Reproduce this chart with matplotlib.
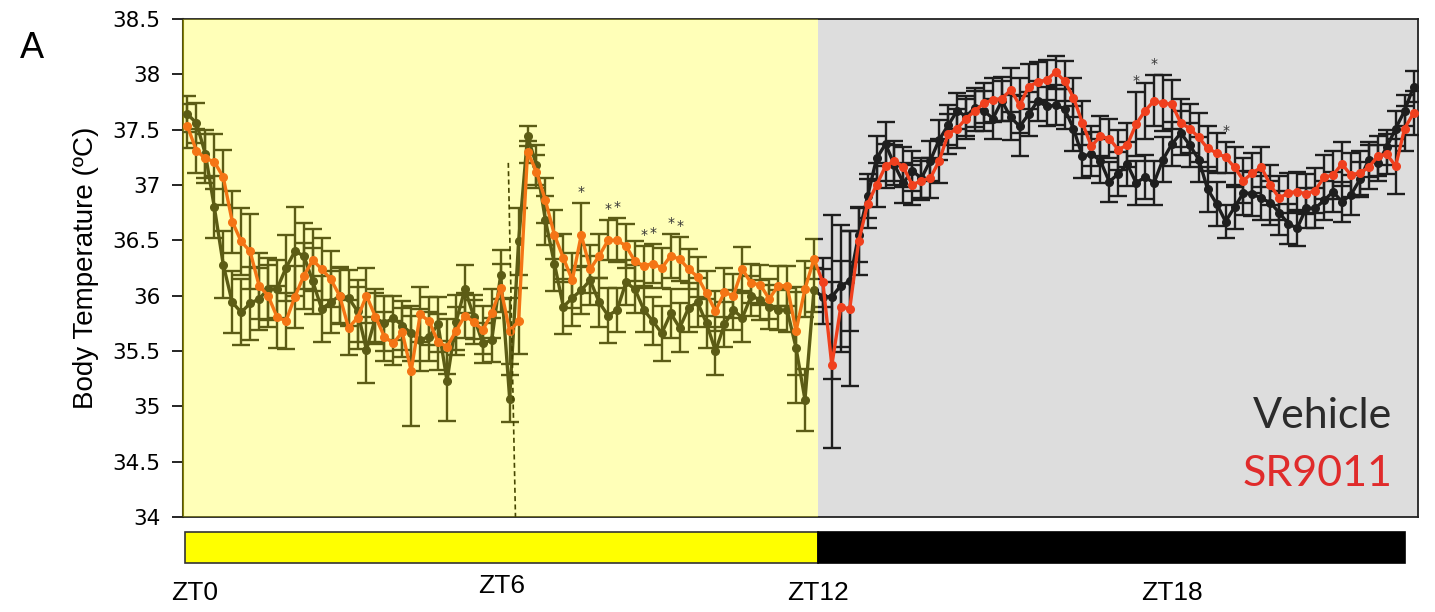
import matplotlib
matplotlib.use('Agg')
import matplotlib.pyplot as plt
from matplotlib.patches import Rectangle
import numpy as np

# body temperature every 10 min, vehicle vs SR9011
vehicle = [
    37.64, 37.56, 37.28, 36.80, 36.28, 35.94, 35.85, 35.93, 35.97, 36.06,
    36.06, 36.25, 36.40, 36.36, 36.13, 35.88, 35.94, 36.00, 35.98, 35.86,
    35.51, 35.80, 35.75, 35.80, 35.73, 35.66, 35.60, 35.63, 35.74, 35.23,
    35.76, 36.06, 35.81, 35.57, 35.60, 36.19, 35.07, 36.49, 37.44, 37.18,
    36.68, 36.29, 35.90, 35.98, 36.05, 36.14, 35.94, 35.82, 35.87, 36.12,
    36.06, 35.87, 35.77, 35.66, 35.84, 35.71, 35.89, 35.94, 35.75, 35.50,
    35.74, 35.87, 35.80, 36.00, 35.96, 35.90, 35.87, 35.87, 35.53, 35.06,
    36.05, 35.99, 35.99, 36.09, 36.13, 36.55, 36.90, 37.24, 37.37, 37.18,
    37.02, 37.13, 37.06, 37.22, 37.41, 37.54, 37.67, 37.62, 37.70, 37.67,
    37.60, 37.76, 37.61, 37.53, 37.64, 37.76, 37.71, 37.72, 37.69, 37.51,
    37.26, 37.28, 37.22, 37.03, 37.10, 37.19, 37.02, 37.07, 37.02, 37.23,
    37.37, 37.47, 37.36, 37.23, 36.96, 36.83, 36.67, 36.80, 36.93, 36.92,
    36.88, 36.84, 36.75, 36.65, 36.61, 36.79, 36.79, 36.86, 36.94, 36.85,
    36.91, 37.05, 37.23, 37.20, 37.34, 37.51, 37.67, 37.89]
vehicle_err = [
    0.16, 0.18, 0.22, 0.28, 0.30, 0.28, 0.30, 0.33, 0.28, 0.28,
    0.26, 0.30, 0.40, 0.30, 0.30, 0.30, 0.28, 0.26, 0.25, 0.28,
    0.30, 0.22, 0.25, 0.20, 0.22, 0.25, 0.28, 0.22, 0.25, 0.36,
    0.25, 0.22, 0.20, 0.18, 0.20, 0.22, 0.21, 0.30, 0.09, 0.18,
    0.22, 0.25, 0.25, 0.25, 0.22, 0.22, 0.22, 0.25, 0.20, 0.20,
    0.22, 0.20, 0.22, 0.25, 0.22, 0.22, 0.22, 0.22, 0.22, 0.22,
    0.20, 0.18, 0.22, 0.18, 0.18, 0.20, 0.18, 0.20, 0.50, 0.28,
    0.20, 0.25, 0.74, 0.55, 0.45, 0.25, 0.20, 0.20, 0.20, 0.18,
    0.18, 0.18, 0.18, 0.18, 0.18, 0.18, 0.16, 0.18, 0.18, 0.18,
    0.18, 0.18, 0.20, 0.27, 0.20, 0.18, 0.18, 0.18, 0.18, 0.20,
    0.20, 0.20, 0.20, 0.18, 0.20, 0.20, 0.20, 0.20, 0.20, 0.20,
    0.20, 0.20, 0.20, 0.20, 0.20, 0.20, 0.15, 0.20, 0.20, 0.20,
    0.20, 0.20, 0.20, 0.18, 0.16, 0.18, 0.18, 0.18, 0.18, 0.18,
    0.18, 0.16, 0.16, 0.16, 0.16, 0.16, 0.14, 0.14]

sr9011 = [
    37.53, 37.31, 37.24, 37.21, 37.07, 36.67, 36.49, 36.40, 36.09, 36.00,
    35.81, 35.77, 35.99, 36.18, 36.32, 36.24, 36.15, 36.00, 35.71, 35.80,
    36.00, 35.81, 35.63, 35.57, 35.67, 35.32, 35.83, 35.77, 35.58, 35.54,
    35.68, 35.82, 35.76, 35.69, 35.84, 36.07, 35.68, 35.77, 37.30, 37.12,
    36.86, 36.55, 36.34, 36.14, 36.55, 36.24, 36.36, 36.50, 36.50, 36.45,
    36.31, 36.27, 36.29, 36.25, 36.36, 36.33, 36.24, 36.17, 36.02, 35.86,
    36.03, 36.00, 36.24, 36.11, 36.10, 35.97, 36.09, 36.09, 35.68, 36.06,
    36.33, 36.12, 35.37, 35.90, 35.88, 36.49, 36.83, 37.00, 37.17, 37.22,
    37.16, 37.00, 37.04, 37.06, 37.22, 37.46, 37.51, 37.60, 37.67, 37.74,
    37.77, 37.78, 37.86, 37.72, 37.89, 37.93, 37.95, 38.02, 37.94, 37.79,
    37.56, 37.35, 37.44, 37.42, 37.32, 37.36, 37.55, 37.67, 37.76, 37.74,
    37.73, 37.56, 37.51, 37.43, 37.33, 37.29, 37.25, 37.16, 37.04, 37.11,
    37.16, 37.00, 36.88, 36.93, 36.94, 36.92, 36.95, 37.07, 37.09, 37.19,
    37.09, 37.11, 37.16, 37.26, 37.28, 37.17, 37.51, 37.65]
sr9011_err = [
    0.20, 0.20, 0.22, 0.25, 0.25, 0.28, 0.30, 0.34, 0.30, 0.28,
    0.28, 0.25, 0.28, 0.30, 0.28, 0.28, 0.25, 0.25, 0.25, 0.28,
    0.25, 0.25, 0.22, 0.20, 0.22, 0.50, 0.25, 0.22, 0.25, 0.25,
    0.22, 0.20, 0.20, 0.22, 0.22, 0.22, 0.30, 0.30, 0.10, 0.15,
    0.20, 0.22, 0.22, 0.25, 0.29, 0.22, 0.20, 0.18, 0.20, 0.20,
    0.18, 0.18, 0.18, 0.18, 0.20, 0.20, 0.18, 0.18, 0.20, 0.18,
    0.22, 0.20, 0.20, 0.18, 0.18, 0.18, 0.18, 0.18, 0.40, 0.25,
    0.18, 0.22, 0.75, 0.41, 0.70, 0.30, 0.22, 0.20, 0.20, 0.18,
    0.18, 0.18, 0.18, 0.18, 0.20, 0.18, 0.18, 0.18, 0.18, 0.18,
    0.20, 0.20, 0.20, 0.25, 0.20, 0.18, 0.18, 0.15, 0.18, 0.18,
    0.20, 0.18, 0.18, 0.18, 0.18, 0.20, 0.29, 0.25, 0.23, 0.25,
    0.22, 0.22, 0.22, 0.22, 0.20, 0.18, 0.14, 0.18, 0.20, 0.18,
    0.18, 0.18, 0.20, 0.18, 0.18, 0.18, 0.20, 0.20, 0.22, 0.20,
    0.20, 0.20, 0.20, 0.18, 0.18, 0.25, 0.20, 0.20]

# significant time points
stars = [44, 47, 48, 51, 52, 54, 55, 106, 108, 116]

# light/dark boundary and injection marker (in sample units)
lights_off = 70.45
injection = ([35.85, 36.65], [37.2, 34.0])
zt_labels = ['ZT0', 'ZT6', 'ZT12', 'ZT18']
zt_pos = [0.8, 35.1, 70.4, 110.0]
zt_y = [-0.8, -0.6, -0.8, -0.8]

x = np.arange(len(vehicle))
veh = np.array(vehicle)
ve = np.array(vehicle_err)
sr = np.array(sr9011)
se = np.array(sr9011_err)

fig = plt.figure(figsize=(14.35, 6.12), dpi=100)
ax = fig.add_axes([183/1435, 1-517/612, 1235/1435, 498/612])

ax.axvspan(lights_off, len(x) - 0.5, color='#dddddd', lw=0, zorder=0)

ax.errorbar(x, veh, yerr=ve, fmt='-o', color='#1e1e1e', ms=5.5, lw=2.4,
            elinewidth=1.7, capsize=6.5, capthick=1.7, zorder=3)
ax.errorbar(x, sr, yerr=se, fmt='-o', color='#f0401e', ecolor='#1e1e1e',
            ms=5.5, lw=2.4, elinewidth=1.7, capsize=6.5, capthick=1.7, zorder=4)
ax.plot(injection[0], injection[1], color='black', lw=1.2, ls=(0, (3, 2)), zorder=5)

# translucent yellow over the light phase
ax.axvspan(-0.5, lights_off, color='#ffff00', alpha=0.28, lw=0, zorder=8)

top = np.maximum(veh + ve, sr + se)
for i in stars:
    ax.text(i, top[i] + 0.1, '*', ha='center', va='center', fontsize=10,
            color='#333333', zorder=10)

ax.set_xlim(-0.5, len(x) - 0.5)
ax.set_ylim(34, 38.5)
ax.set_yticks(np.arange(34, 38.51, 0.5))
ax.set_yticklabels(['%g' % v for v in np.arange(34, 38.51, 0.5)], fontsize=15.5)
ax.set_xticks([])
ax.tick_params(axis='y', direction='out', length=8, width=1.2, pad=8)
ax.set_ylabel('Body Temperature (ºC)', fontsize=20, family='Liberation Sans', labelpad=10)
for s in ['top', 'right', 'bottom']:
    ax.spines[s].set_color('#222222')
    ax.spines[s].set_linewidth(1.3)
ax.spines['left'].set_color('#55520f')
ax.spines['left'].set_linewidth(1.5)

ax.text(0.979, 0.179, 'Vehicle', transform=ax.transAxes, ha='right', va='baseline',
        fontsize=31, family='Lato', color='#2b2b2b', zorder=10)
ax.text(0.979, 0.062, 'SR9011', transform=ax.transAxes, ha='right', va='baseline',
        fontsize=31, family='Lato', color='#e02b2b', zorder=10)

fig.text(20/1435, 1-58/612, 'A', fontsize=26, family='Liberation Sans', va='baseline')

# light/dark bar under the plot
bar = fig.add_axes([183/1435, 1-565/612, 1235/1435, 35/612])
bar.set_xlim(-0.5, len(x) - 0.5)
bar.set_ylim(0, 1)
bar.axis('off')
bar.add_patch(Rectangle((-0.3, 0.05), lights_off + 0.3, 0.9, facecolor='#ffff00',
                        edgecolor='#333333', lw=1.2))
bar.add_patch(Rectangle((lights_off, 0.05), 136.0 - lights_off, 0.9, facecolor='black',
                        edgecolor='black', lw=1.2))
for lab, p, yy in zip(zt_labels, zt_pos, zt_y):
    bar.text(p, yy, lab, ha='center', va='center', fontsize=19,
             family='Liberation Sans')

fig.savefig('out.png', dpi=100)
